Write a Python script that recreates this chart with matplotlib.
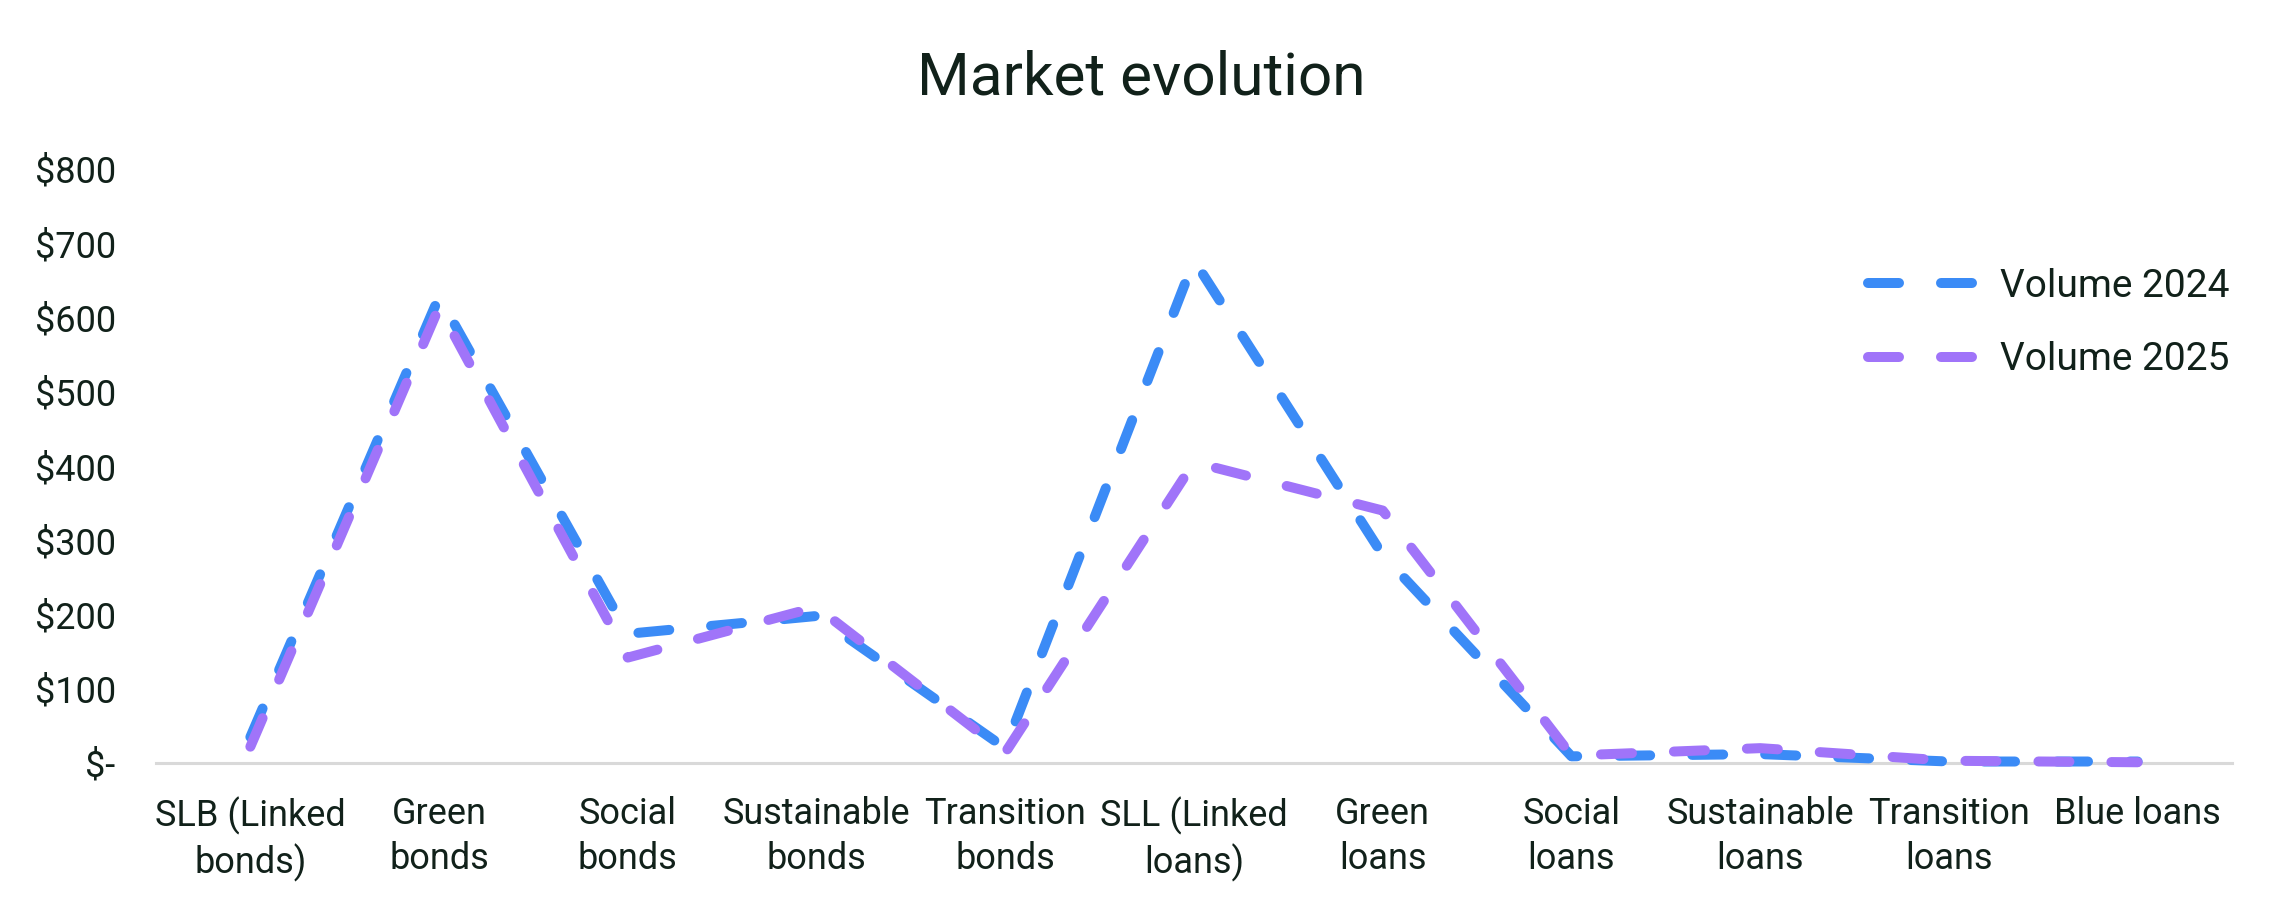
import matplotlib
matplotlib.use("Agg")
import matplotlib.pyplot as plt

# data
categories = ["SLB (Linked\nbonds)", "Green\nbonds", "Social\nbonds", "Sustainable\nbonds",
              "Transition\nbonds", "SLL (Linked\nloans)", "Green\nloans", "Social\nloans",
              "Sustainable\nloans", "Transition\nloans", "Blue loans"]
volume_2024 = [35, 628, 174, 198, 20, 677, 280, 9, 12, 2, 2]
volume_2025 = [22, 614, 142, 210, 14, 405, 340, 10, 20, 3, 1]
y_ticks = [0, 100, 200, 300, 400, 500, 600, 700, 800]
y_tick_labels = ["$-", "$100", "$200", "$300", "$400", "$500", "$600", "$700", "$800"]
series_names = ["Volume 2024", "Volume 2025"]

BLUE = "#3B8BF6"
PURPLE = "#A074F9"
TEXT = "#11211A"

plt.rcParams["font.family"] = ["Roboto", "DejaVu Sans"]

W, H = 2283, 908
fig = plt.figure(figsize=(W / 100, H / 100), dpi=100)
ax = fig.add_axes([156 / W, 1 - 763 / H, 2076 / W, (763 - 169) / H])

x = list(range(len(categories)))
for vals, col, name in [(volume_2024, BLUE, series_names[0]), (volume_2025, PURPLE, series_names[1])]:
    ax.plot(x, vals, color=col, lw=7.2, dashes=(3.1, 4.2), dash_capstyle="round",
            solid_capstyle="round", dash_joinstyle="round", label=name, clip_on=False)

ax.set_xlim(-0.5, len(categories) - 0.5)
ax.set_ylim(0, 800)
ax.set_xticks(x)
ax.set_xticklabels(categories, fontsize=26, color=TEXT, linespacing=1.3)
ax.set_yticks(y_ticks)
ax.set_yticklabels(y_tick_labels, fontsize=26, color=TEXT)
ax.tick_params(axis="both", length=0)
ax.tick_params(axis="x", pad=24)
ax.tick_params(axis="y", pad=29)

for s in ["top", "right", "left"]:
    ax.spines[s].set_visible(False)
ax.spines["bottom"].set_color("#D9D9D9")
ax.spines["bottom"].set_linewidth(2.2)
ax.spines["bottom"].set_zorder(0)

leg = ax.legend(loc="center left", bbox_to_anchor=(1868 / W, 1 - 323 / H),
                bbox_transform=fig.transFigure, frameon=False, fontsize=28,
                handlelength=2.7, handletextpad=0.7, labelspacing=0.95,
                borderpad=0, borderaxespad=0)
for t in leg.get_texts():
    t.set_color(TEXT)

fig.text(0.4999, 1 - 78 / H, "Market evolution", fontsize=43.5, color=TEXT,
         ha="center", va="center")

fig.savefig("out.png", dpi=100, facecolor="white")
